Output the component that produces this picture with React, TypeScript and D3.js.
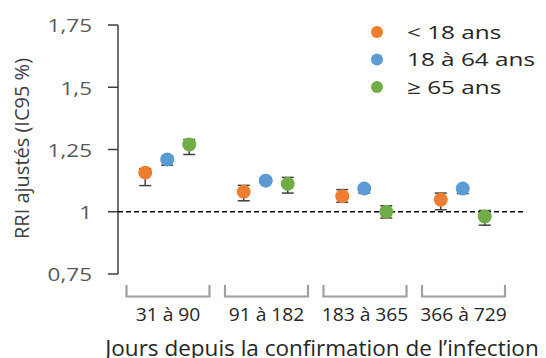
import React from "react";
import * as d3 from "d3";

const categories = ["31 à 90", "91 à 182", "183 à 365", "366 à 729"];
const seriesNames = ["< 18 ans", "18 à 64 ans", "≥ 65 ans"];
const seriesColors = ["#ED7D31", "#5B9BD5", "#70AD47"];
// point estimates per series, one value per category
const under18 = [1.157, 1.08, 1.062, 1.048];
const adults = [1.21, 1.125, 1.093, 1.093];
const seniors = [1.27, 1.112, 1.0, 0.981];
// 95% CI bounds
const under18Low = [1.105, 1.044, 1.038, 1.008];
const under18High = [1.173, 1.106, 1.089, 1.075];
const adultsLow = [1.187, 1.115, 1.075, 1.073];
const adultsHigh = [1.222, 1.135, 1.105, 1.105];
const seniorsLow = [1.23, 1.075, 0.975, 0.946];
const seniorsHigh = [1.29, 1.138, 1.024, 1.005];
const yTicks = [0.75, 1, 1.25, 1.5, 1.75];

const values = [under18, adults, seniors];
const lows = [under18Low, adultsLow, seniorsLow];
const highs = [under18High, adultsHigh, seniorsHigh];

const W = 546;
const H = 358;
const FONT = "'Open Sans', sans-serif";

export default function App() {
  const x0 = 118;
  const x1 = 512;
  const y = d3.scaleLinear().domain([0.75, 1.75]).range([274, 25]);
  const band = d3.scaleBand().domain(categories).range([x0, x1]);
  const inner = d3
    .scalePoint<number>()
    .domain([0, 1, 2])
    .range([-22, 22]);
  const fmt = (v: number) => String(v).replace(".", ",");

  return (
    <svg
      width={W}
      height={H}
      style={{ position: "absolute", left: 0, top: 0, background: "#fff" }}
      fontFamily={FONT}
    >
      {/* y axis */}
      <line x1={x0} x2={x0} y1={y(1.75)} y2={y(0.75)} stroke="#404040" strokeWidth={1.5} />
      {yTicks.map((t) => (
        <g key={t}>
          <line x1={x0 - 10} x2={x0} y1={y(t)} y2={y(t)} stroke="#404040" strokeWidth={1.5} />
          <text
            transform={`translate(92,${y(t) + 1}) scale(1.25,1)`}
            dy="0.35em"
            textAnchor="end"
            fontSize={18}
            fill="#595959"
          >
            {fmt(t)}
          </text>
        </g>
      ))}
      <text
        transform={`translate(22,${(y(0.75) + y(1.75)) / 2 - 1}) rotate(-90)`}
        textAnchor="middle"
        dy="0.35em"
        fontSize={20}
        fill="#404040"
      >
        RRI ajustés (IC95 %)
      </text>

      {/* reference line at 1 */}
      <line
        x1={x0}
        x2={525}
        y1={y(1)}
        y2={y(1)}
        stroke="#000"
        strokeWidth={1.5}
        strokeDasharray="5 3"
      />

      {/* category brackets */}
      {categories.map((c) => {
        const bx = band(c)!;
        const bw = band.bandwidth();
        const l = bx + 8.5;
        const r = bx + bw - 7;
        return (
          <g key={c}>
            <path
              d={`M${l},285 V296.5 H${r} V285`}
              fill="none"
              stroke="#A0A0A0"
              strokeWidth={2.2}
            />
            <text
              transform={`translate(${(l + r) / 2},315) scale(1.07,1)`}
              dy="0.35em"
              textAnchor="middle"
              fontSize={18}
              fill="#262626"
            >
              {c}
            </text>
          </g>
        );
      })}
      <text x={322} y={356} textAnchor="middle" fontSize={22.5} fill="#262626">
        Jours depuis la confirmation de l’infection
      </text>

      {/* error bars and points */}
      {values.map((vals, s) => (
        <g key={s}>
          {vals.map((v, i) => {
            const cx = band(categories[i])! + band.bandwidth() / 2 + inner(s)!;
            const lo = y(lows[s][i]);
            const hi = y(highs[s][i]);
            return (
              <g key={i}>
                <line x1={cx} x2={cx} y1={lo} y2={hi} stroke="#404040" strokeWidth={1.5} />
                <line x1={cx - 6} x2={cx + 6} y1={lo} y2={lo} stroke="#404040" strokeWidth={1.5} />
                <line x1={cx - 6} x2={cx + 6} y1={hi} y2={hi} stroke="#404040" strokeWidth={1.5} />
                <circle cx={cx} cy={y(v)} r={7} fill={seriesColors[s]} />
              </g>
            );
          })}
        </g>
      ))}

      {/* legend */}
      {seriesNames.map((n, s) => (
        <g key={n} transform={`translate(377,${32 + s * 27.5})`}>
          <circle r={6} fill={seriesColors[s]} />
          <text transform="translate(30,0) scale(1.28,1)" dy="0.35em" fontSize={19} fill="#262626">
            {n}
          </text>
        </g>
      ))}
    </svg>
  );
}
